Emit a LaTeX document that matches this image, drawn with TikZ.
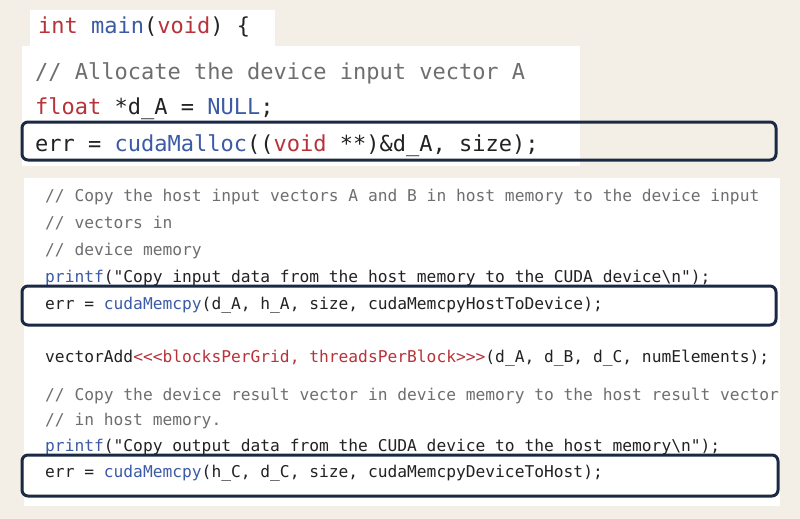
\documentclass[tikz,border=0pt]{standalone}
\usepackage{fontspec}
\setmonofont{DejaVu Sans Mono}
\definecolor{bgc}{HTML}{F3EEE6}
\definecolor{kw}{HTML}{B8323A}
\definecolor{fn}{HTML}{3C5BA6}
\definecolor{cm}{HTML}{6E6E6E}
\definecolor{tx}{HTML}{222222}
\definecolor{box}{HTML}{1B2A44}
\begin{document}
\begin{tikzpicture}[x=1pt,y=-1pt,
  big/.style={anchor=base west,inner sep=0pt,font=\ttfamily\fontsize{22}{26}\selectfont,text=tx},
  small/.style={anchor=base west,inner sep=0pt,font=\ttfamily\fontsize{16.25}{20}\selectfont,text=tx},
  hl/.style={draw=box,line width=3pt,rounded corners=6pt}]
\useasboundingbox (0,0) rectangle (800,519);
\fill[bgc] (0,0) rectangle (800,519);
\fill[white] (30,10) rectangle (275,46);
\fill[white] (22,46) rectangle (580,166);
\fill[white] (24,178) rectangle (780,506);
\node[big] (l1) at (38,34) {\textcolor{kw}{int} \textcolor{fn}{main}(\textcolor{kw}{void}) \{};
\node[big,text=cm] (l2) at (35,79) {// Allocate the device input vector A};
\node[big] (l3) at (35,114) {\textcolor{kw}{float} *d\_A = \textcolor{fn}{NULL};};
\node[big] (l4) at (35,151) {err = \textcolor{fn}{cudaMalloc}((\textcolor{kw}{void} **)\&d\_A, size);};
\node[small,text=cm] (c1) at (45,201) {// Copy the host input vectors A and B in host memory to the device input};
\node[small,text=cm] (c2) at (45,228) {// vectors in};
\node[small,text=cm] (c3) at (45,255) {// device memory};
\node[small] (p1) at (45,282) {\textcolor{fn}{printf}("Copy input data from the host memory to the CUDA device\textbackslash n");};
\node[small] (e1) at (45,309) {err = \textcolor{fn}{cudaMemcpy}(d\_A, h\_A, size, cudaMemcpyHostToDevice);};
\node[small] (v1) at (45,362) {vectorAdd\textcolor{kw}{<{}<{}<blocksPerGrid, threadsPerBlock>{}>{}>}(d\_A, d\_B, d\_C, numElements);};
\node[small,text=cm] (c4) at (45,400) {// Copy the device result vector in device memory to the host result vector};
\node[small,text=cm] (c5) at (45,425) {// in host memory.};
\node[small] (p2) at (45,451) {\textcolor{fn}{printf}("Copy output data from the CUDA device to the host memory\textbackslash n");};
\node[small] (e2) at (45,477) {err = \textcolor{fn}{cudaMemcpy}(h\_C, d\_C, size, cudaMemcpyDeviceToHost);};
\draw[hl] (22,122) rectangle (776,160);
\draw[hl] (22,286) rectangle (776,325);
\draw[hl] (22,455) rectangle (778,496);
\end{tikzpicture}
\end{document}
